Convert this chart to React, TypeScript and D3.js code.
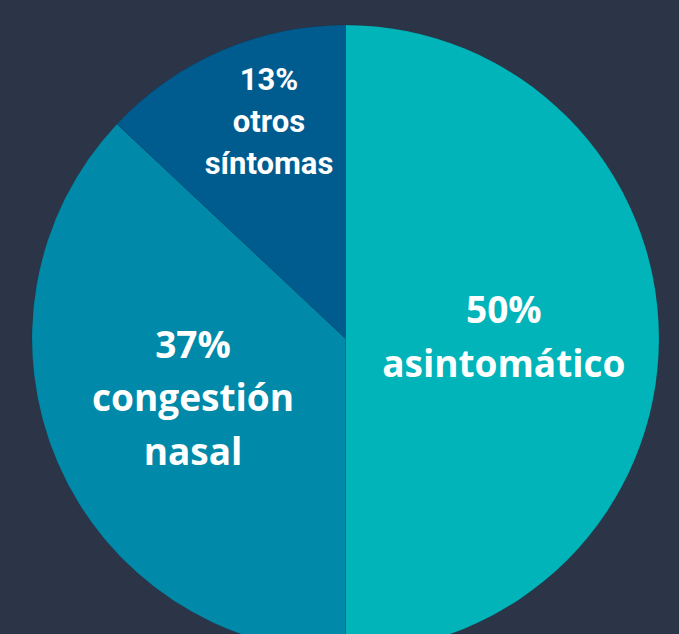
import { useEffect, useRef } from "react";
import * as d3 from "d3";

const categories = ["asintomático", "congestión nasal", "otros síntomas"];
const values = [50, 37, 13];
const labelLines = [["50%", "asintomático"], ["37%", "congestión", "nasal"], ["13%", "otros", "síntomas"]];
const colors = ["#00b4b9", "#0089a8", "#005c8f"];

// label placement (fraction of the radius used for the centroid arc, and small nudges)
const labelRadius = [1.01, 1.06, 1.47];
const labelNudge = [[0, -4], [0, -8], [15, -6]];

export default function App() {
    const svgRef = useRef<SVGSVGElement>(null);

    useEffect(() => {
        if (!svgRef.current) return;
        const width = 679;
        const height = 634;
        const svg = d3.select(svgRef.current);
        svg.selectAll("*").remove();

        svg.append("rect")
            .attr("width", width)
            .attr("height", height)
            .style("fill", "#2c3447");

        const cx = 345.5;
        const cy = 338.5;
        const radius = 313.5;

        const g = svg.append("g").attr("transform", `translate(${cx},${cy})`);

        const pie = d3.pie<number>().sort(null).value(d => d);
        const arcs = pie(values);

        const arc = d3.arc<d3.PieArcDatum<number>>()
            .innerRadius(0)
            .outerRadius(radius);

        g.selectAll("path.slice")
            .data(arcs)
            .enter()
            .append("path")
            .attr("class", "slice")
            .attr("d", arc)
            .style("fill", (_, i) => colors[i])
            .style("stroke", "rgba(0,0,0,0.08)")
            .style("stroke-width", 1);

        arcs.forEach((a, i) => {
            const small = values[i] < 20;
            const labelArc = d3.arc<d3.PieArcDatum<number>>().innerRadius(0).outerRadius(radius * labelRadius[i]);
            const [x0, y0] = labelArc.centroid(a);
            const x = x0 + labelNudge[i][0];
            const y = y0 + labelNudge[i][1];
            const fontSize = small ? 31 : 37;
            const lineH = small ? 42 : 54;
            const lines = labelLines[i];
            const top = y - ((lines.length - 1) * lineH) / 2;

            const text = g.append("text")
                .attr("text-anchor", "middle")
                .attr("dominant-baseline", "central")
                .style("fill", "#ffffff")
                .style("font-weight", "700")
                .style("font-size", `${fontSize}px`)
                .style("font-family", small ? "Roboto, sans-serif" : "'Open Sans', sans-serif")
                .attr("aria-label", categories[i]);

            lines.forEach((ln, j) => {
                text.append("tspan")
                    .attr("x", x)
                    .attr("y", top + j * lineH)
                    .text(ln);
            });
        });
    }, []);

    return (
        <svg
            ref={svgRef}
            width={679}
            height={634}
            style={{ position: "absolute", left: 0, top: 0, display: "block" }}
        />
    );
}
